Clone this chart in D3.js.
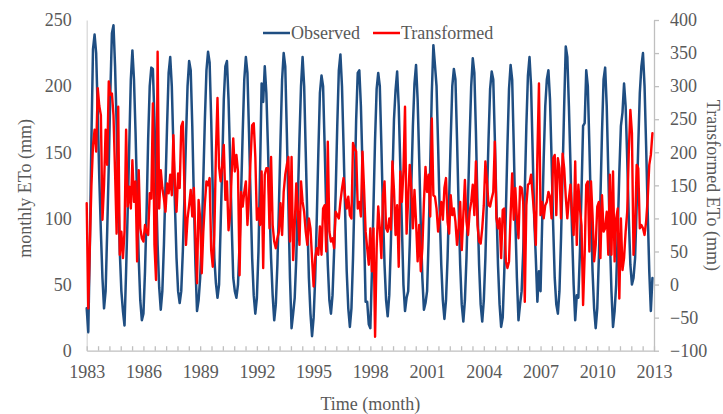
<!DOCTYPE html>
<html>
<head>
<meta charset="utf-8">
<script src="https://cdn.jsdelivr.net/npm/d3@7"></script>
<style>
  body { margin: 0; background: #fff; }
  svg { display: block; }
  text { font-family: "Liberation Serif", "DejaVu Serif", serif; fill: #595959; }
</style>
</head>
<body>
<svg id="chart" width="723" height="414"></svg>
<script>
// Monthly series, January 1983 to December 2012
const startYear = 1983;
const yearTicks = [1983, 1986, 1989, 1992, 1995, 1998, 2001, 2004, 2007, 2010, 2013];
const leftTicks = [0, 50, 100, 150, 200, 250];
const rightTicks = [-100, -50, 0, 50, 100, 150, 200, 250, 300, 350, 400];

// Observed monthly ETo (mm), left axis
const observed = [
  32, 14, 80, 160, 228, 239, 225, 180, 130, 90, 55, 32,
  45, 90, 140, 195, 240, 246, 215, 170, 120, 75, 45, 30,
  19, 60, 105, 155, 205, 227, 205, 165, 115, 70, 38, 23,
  28, 60, 105, 160, 200, 214, 213, 175, 125, 80, 48, 31,
  45, 80, 125, 170, 210, 222, 200, 155, 110, 70, 45, 36,
  45, 75, 115, 160, 200, 219, 212, 170, 115, 65, 30, 38,
  55, 85, 130, 175, 212, 226, 218, 175, 120, 70, 51, 40,
  50, 95, 140, 190, 215, 219, 190, 145, 95, 55, 45, 40,
  50, 80, 120, 165, 205, 222, 210, 165, 115, 70, 42, 28,
  40, 75, 135, 202, 188, 215, 195, 155, 110, 70, 42, 23,
  35, 65, 110, 160, 205, 225, 215, 165, 110, 55, 17, 28,
  40, 70, 115, 160, 200, 222, 200, 150, 100, 55, 28, 11,
  25, 55, 100, 150, 195, 208, 200, 155, 105, 65, 38, 28,
  42, 75, 120, 170, 212, 224, 200, 155, 105, 60, 32, 18,
  32, 70, 120, 175, 210, 212, 185, 140, 90, 37, 37, 20,
  17, 60, 110, 160, 198, 210, 200, 155, 105, 65, 38, 26,
  42, 80, 130, 175, 197, 211, 185, 140, 95, 50, 30, 40,
  45, 80, 125, 170, 202, 216, 190, 145, 95, 55, 31, 36,
  45, 85, 140, 195, 231, 216, 200, 155, 105, 65, 38, 24,
  38, 70, 115, 160, 200, 213, 205, 160, 110, 65, 35, 22,
  38, 70, 115, 160, 200, 221, 210, 165, 110, 65, 35, 22,
  38, 70, 115, 160, 198, 211, 205, 160, 110, 65, 35, 18,
  25, 60, 105, 155, 198, 216, 205, 155, 100, 55, 23, 35,
  45, 75, 120, 170, 208, 222, 200, 150, 100, 70, 37, 60,
  45, 95, 145, 185, 205, 212, 190, 145, 95, 55, 35, 28,
  45, 85, 135, 185, 230, 222, 185, 140, 90, 50, 23, 42,
  40, 75, 120, 170, 172, 212, 200, 155, 105, 60, 32, 17,
  32, 70, 115, 165, 205, 214, 185, 135, 85, 45, 18, 30,
  50, 90, 135, 170, 180, 202, 185, 145, 100, 65, 50, 55,
  70, 110, 155, 195, 215, 225, 200, 155, 105, 60, 30, 55
];

// Transformed monthly ETo (mm), right axis
const transformed = [
  123, -36, 60, 150, 211, 234, 201, 297, 270, 256,
  98, 150, 234, 181, 307, 287, 289, 256, 170, 77,
  269, 45, 80, 40, 80, 234, 118, 148, 115, 188,
  125, 156, 35, 173, 85, 70, 65, 90, 80, 75,
  138, 130, 274, 60, 7, 352, 115, 173, 146, 130,
  110, 153, 138, 166, 135, 226, 150, 110, 168, 146,
  239, 246, 150, 60, 100, 120, 143, 103, 146, 70,
  2, 128, 100, 17, 80, 123, 156, 150, 161, 52,
  27, 75, 200, 282, 178, 156, 180, 211, 128, 156,
  82, 105,
  168, 221, 171, 196, 171, 14, 140, 118, 140, 156,
  90, 135, 190, 241, 244, 193, 98, 115, 90, 171,
  25, 166, 176, 176, 85, 193, 90, 65, 55, 70,
  80, 123, 75, 140, 166, 181, 193, 65, 193, 37,
  90, 153, 110, 60, 156, 125, 110, 80, 60, 100,
  85, 40, -3, 40, 55, 45, 88, 45, 115, 120,
  50, 216, 80, 65, 70, 55, 110, 105, 100, 125,
  145, 161, 133, 115, 133, 105, 100, 214, 206, 201,
  115, 125, 103, 201, 145, 80, 55, 30,
  85,
  20, 85, -79, 55, 118, 85, 40, 135, 156, 85,
  80, 100, 83, 186, 143, 75, 120, 27, 171, 125,
  171, 269, 77,
  130, 181, 146, 85, 143, 95,
  35, 90, 20, 55, 125, 178, 140, 166, 103, 251,
  135, 133, 115, 80, 100, 125, 98, 146, 161, 95,
  77, 135, 105, 115, 95, 60, 85, 125, 52, 105,
  158, 95, 75, 110, 125, 151, 105, 186, 90, 65,
  62, 85, 120, 186, 156, 120, 118, 130, 140, 216,
  100, 85, 100, 40, 113, 115, 35,
  25,
  35, 105,
  168, 98, 146, 100, 70, 148, 146, 125, -26, 120,
  151, 153, 166, 135, 105, 60, 196, 304, 105, 125,
  100, 120, 125, 140, 133, 100, 191, 196, 105, 191,
  176, 100, 198, 176, 133, 100, 130, 151, 105, 75,
  186, 60, 151, 115, 90, -31, 45, 151, 156, 50,
  156, 105, 35, 60, 118, 125, 40, 135, 80, 85,
  110, 45, 166, 45, 171, 35, 100, 115, -21, 100,
  22, 40, 80, 110, 200, 264, 229, 45, 85, 181,
  176, 85, 90, 85, 75, 95, 130, 181, 196, 229
];

const seriesNames = ["Observed", "Transformed"];
const seriesColors = ["#1f4e82", "#ff0000"];

const svg = d3.select("#chart");
const fontSize = 18;

const plot = { left: 86.7, right: 654, top: 20, bottom: 350.7 };

const x = d3.scaleLinear().domain([1983, 2013]).range([plot.left, plot.right]);
const yL = d3.scaleLinear().domain([0, 250]).range([plot.bottom, plot.top]);
const yR = d3.scaleLinear().domain([-100, 400]).range([plot.bottom, plot.top]);

const t = i => startYear + i / 12;

// Left axis: line only, no tick marks
const gL = svg.append("g").attr("transform", `translate(${plot.left},0)`)
  .call(d3.axisLeft(yL).tickValues(leftTicks).tickSize(0).tickSizeOuter(0).tickPadding(15));
gL.select(".domain").attr("stroke", "#d9d9d9").attr("stroke-width", 1.3);
gL.selectAll("text").attr("font-size", fontSize).attr("font-family", null).attr("fill", "#595959");

// Right axis with outward ticks
const gR = svg.append("g").attr("transform", `translate(${plot.right},0)`)
  .call(d3.axisRight(yR).tickValues(rightTicks).tickSize(5).tickSizeOuter(0).tickPadding(11));
gR.select(".domain").attr("stroke", "#bfbfbf").attr("stroke-width", 1.3);
gR.selectAll(".tick line").attr("stroke", "#bfbfbf").attr("stroke-width", 1.3);
gR.selectAll("text").attr("font-size", fontSize).attr("font-family", null).attr("fill", "#595959");

// Bottom axis: minor ticks pointing into the plot, year labels every three years
const minorTicks = d3.range(0, 51).map(k => 1983 + k * 0.6);
const gBm = svg.append("g").attr("transform", `translate(0,${plot.bottom})`)
  .call(d3.axisBottom(x).tickValues(minorTicks).tickSize(-4.5).tickSizeOuter(0).tickFormat(""));
gBm.select(".domain").attr("stroke", "#bfbfbf").attr("stroke-width", 1.3);
gBm.selectAll(".tick line").attr("stroke", "#bfbfbf").attr("stroke-width", 1.3);

const gB = svg.append("g").attr("transform", `translate(0,${plot.bottom})`)
  .call(d3.axisBottom(x).tickValues(yearTicks).tickSize(0).tickSizeOuter(0).tickPadding(15).tickFormat(d3.format("d")));
gB.select(".domain").remove();
gB.selectAll("text").attr("font-size", fontSize).attr("font-family", null).attr("fill", "#595959");

// Series lines
const lineL = d3.line().x((d, i) => x(t(i))).y(d => yL(d)).curve(d3.curveLinear);
const lineR = d3.line().x((d, i) => x(t(i))).y(d => yR(d)).curve(d3.curveLinear);

svg.append("path").datum(observed)
  .attr("d", lineL).attr("fill", "none")
  .attr("stroke", seriesColors[0]).attr("stroke-width", 2.5)
  .attr("stroke-linejoin", "round").attr("stroke-linecap", "round");

svg.append("path").datum(transformed)
  .attr("d", lineR).attr("fill", "none")
  .attr("stroke", seriesColors[1]).attr("stroke-width", 2.4)
  .attr("stroke-linejoin", "round").attr("stroke-linecap", "round");

// Legend
const legendItems = [
  { name: seriesNames[0], color: seriesColors[0], x: 263 },
  { name: seriesNames[1], color: seriesColors[1], x: 373 }
];
const lg = svg.append("g");
legendItems.forEach(it => {
  lg.append("line").attr("x1", it.x).attr("x2", it.x + 27).attr("y1", 33).attr("y2", 33)
    .attr("stroke", it.color).attr("stroke-width", 2.5);
  lg.append("text").attr("x", it.x + 28).attr("y", 33).attr("dy", "0.35em")
    .attr("font-size", fontSize).text(it.name);
});

// Axis titles
svg.append("text").attr("transform", `translate(25,${(plot.top + plot.bottom) / 2 + 3}) rotate(-90)`)
  .attr("text-anchor", "middle").attr("dy", "0.35em").attr("font-size", fontSize).text("monthly ETo (mm)");
svg.append("text").attr("transform", `translate(713,${(plot.top + plot.bottom) / 2}) rotate(90)`)
  .attr("text-anchor", "middle").attr("dy", "0.35em").attr("font-size", fontSize).text("Transformed ETo (mm)");
svg.append("text").attr("x", (plot.left + plot.right) / 2).attr("y", 404)
  .attr("text-anchor", "middle").attr("dy", "0.35em").attr("font-size", fontSize).text("Time (month)");
</script>
</body>
</html>
